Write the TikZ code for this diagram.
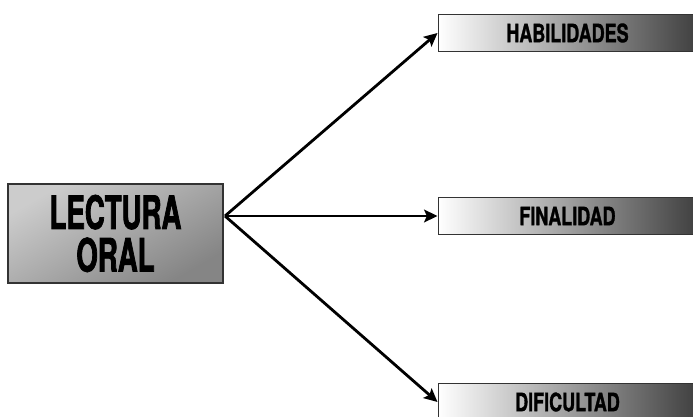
\documentclass[tikz,border=0pt]{standalone}
\usepackage{fontspec}
\newfontfamily\topicfont{TeX Gyre Heros}[FakeStretch=0.60,FakeBold=1.6]
\newfontfamily\branchfont{TeX Gyre Heros}[FakeStretch=0.71,FakeBold=1.2]
\usetikzlibrary{arrows.meta,shadings}
\tikzset{
  topic/.style={
    rectangle,
    minimum width=161pt,
    minimum height=74pt,
    align=center,
    draw=black!80,
    line width=1.1pt,
    top color=black!20,
    bottom color=black!48,
    shading angle=30,
    font=\topicfont\bfseries\fontsize{34.5}{32}\selectfont
    },
  branch/.style={
    rectangle,
    minimum width=194pt,
    minimum height=28pt,
    align=center,
    draw=black!80,
    line width=1pt,
    left color=white,
    middle color=black!12,
    right color=black!75,
    font=\branchfont\bfseries\fontsize{19}{20}\selectfont
    },
  arrow/.style={line width=2.1pt,-{Stealth[length=10pt,width=9.5pt,inset=2pt]}},
}

\begin{document}
\begin{tikzpicture}[x=0.75pt,y=-0.75pt]
\clip (0,0) rectangle (693,417);
\useasboundingbox (0,0) rectangle (693,417);
\node (lectura) [topic] at (115.5,233.5) {LECTURA\\ORAL};
\node (hab) [branch] at (567.5,33) {HABILIDADES};
\node (fin) [branch] at (567.5,216) {FINALIDAD};
\node (dif) [branch] at (567.5,402) {DIFICULTAD};
\coordinate (fork) at (225,216);

\draw [arrow] (fork) -- (hab.west);
\draw [arrow] (fork) -- (fin.west);
\draw [arrow] (fork) -- (dif.west);
\end{tikzpicture}
\end{document}
